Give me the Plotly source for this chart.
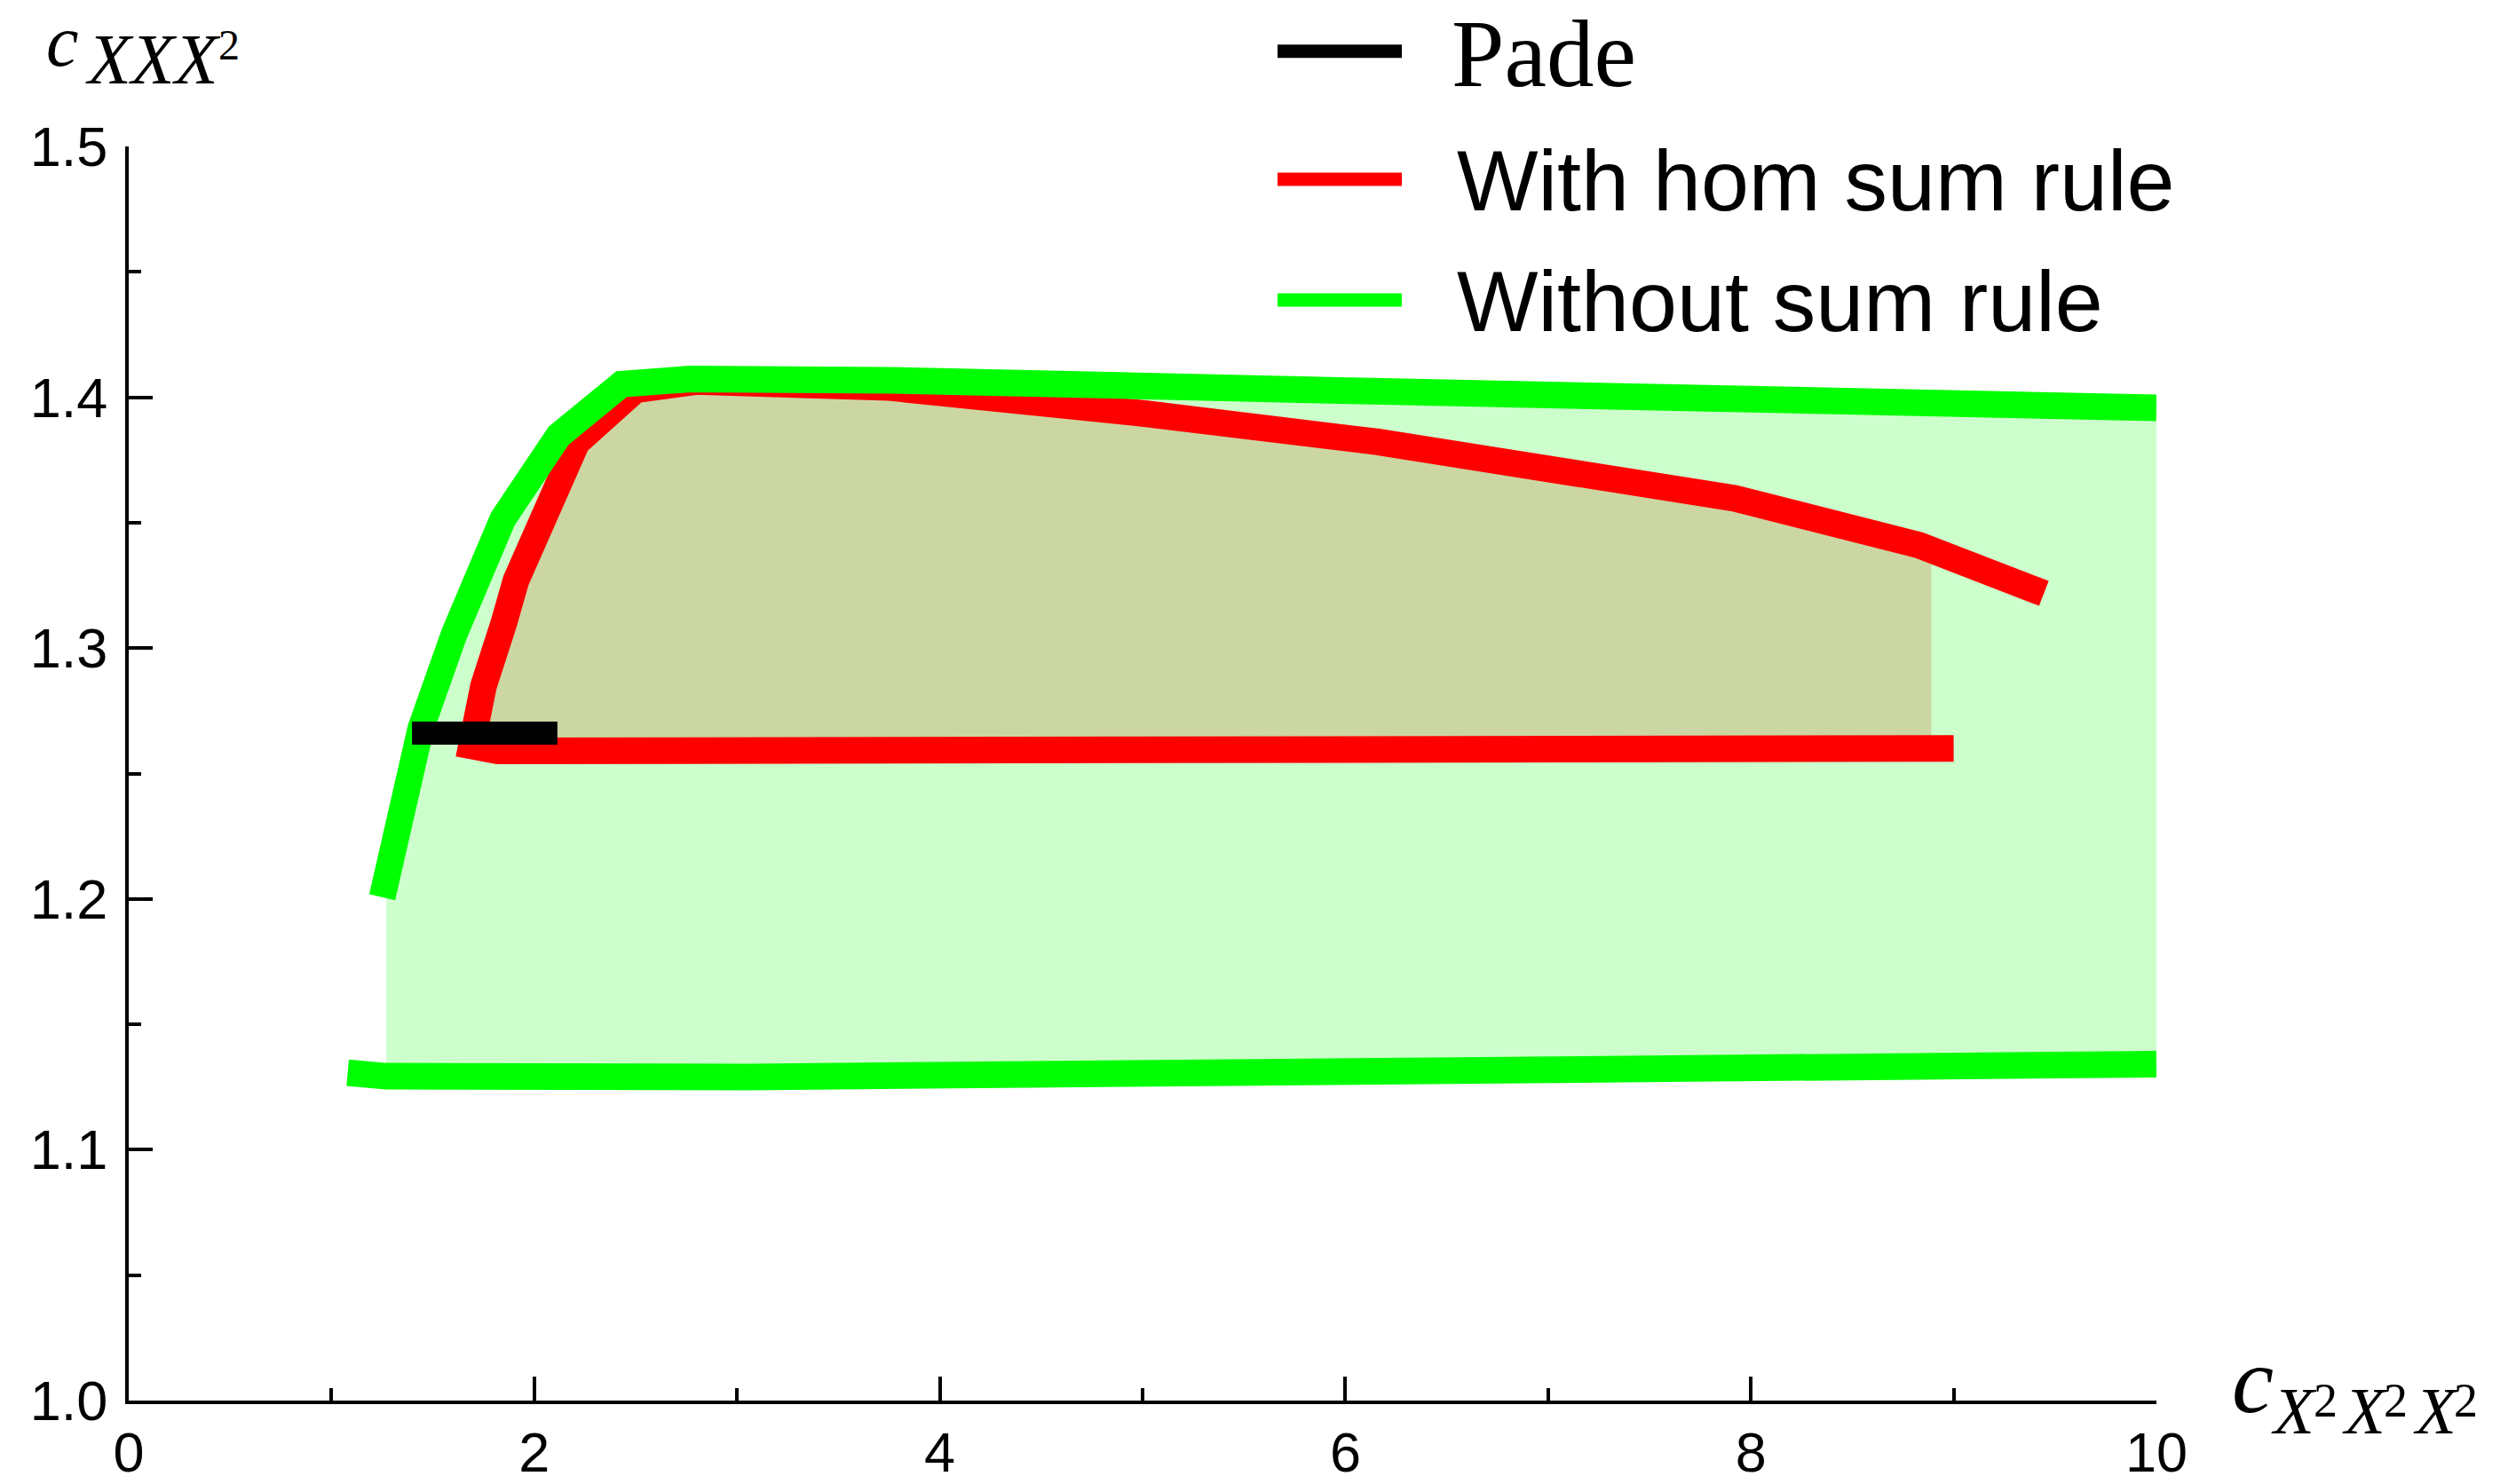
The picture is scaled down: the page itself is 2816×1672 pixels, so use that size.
import numpy as np
import plotly.graph_objects as go

# ---------------- data ----------------
green_upper_x = [1.25, 1.44, 1.605, 1.845, 2.12, 2.43, 2.77, 3.75, 6.02, 8.12, 10.0]
green_upper_y = [1.2007, 1.2679, 1.3056, 1.3515, 1.3847, 1.4052, 1.4073, 1.4068, 1.4026, 1.3989, 1.3958]

green_lower_x = [1.08, 1.27, 3.05, 5.5, 7.95, 9.32, 10.0]
green_lower_y = [1.1307, 1.1293, 1.1290, 1.1299, 1.1309, 1.1319, 1.1341]

red_lower_x = [1.69, 1.82, 7.7, 9.0]
red_lower_y = [1.2610, 1.2590, 1.2597, 1.2600]

red_upper_x = [1.69, 1.75, 1.85, 1.91, 2.21, 2.50, 2.80, 3.75, 5.01, 6.16, 7.92, 8.35, 8.83, 9.445]
red_upper_y = [1.2610, 1.285, 1.310, 1.327, 1.382, 1.4030, 1.4063, 1.4039, 1.3935, 1.3822, 1.3597, 1.3515, 1.341, 1.3218]

pade_x = [1.397, 2.114]
pade_y = [1.2661, 1.2661]

green_fill_range = (1.27, 10.0)
red_fill_range = (1.69, 8.89)

x_tickvals = [0, 2, 4, 6, 8, 10]
x_ticktext = ["0", "2", "4", "6", "8", "10"]
y_tickvals = [1.0, 1.1, 1.2, 1.3, 1.4, 1.5]
y_ticktext = ["1.0", "1.1", "1.2", "1.3", "1.4", "1.5"]

legend_names = ["Pade", "With hom sum rule", "Without sum rule"]
legend_colors = ["#000000", "#FF0000", "#00FF00"]

# ---------------- layout geometry ----------------
W, H = 2816, 1672
L, R, T, B = 145, 387, 165, 94
PW, PH = W - L - R, H - T - B


def px_x(px):
    return (px - L) / PW


def px_y(py):
    return (H - B - py) / PH


def clip(xs, ys, x0, x1):
    xs = np.asarray(xs, float)
    ys = np.asarray(ys, float)
    inner = (xs > x0) & (xs < x1)
    cx = [x0] + list(xs[inner]) + [x1]
    cy = [float(np.interp(x0, xs, ys))] + list(ys[inner]) + [float(np.interp(x1, xs, ys))]
    return cx, cy


fig = go.Figure()

# red filling (region with hom sum rule)
rlx, rly = clip(red_lower_x, red_lower_y, *red_fill_range)
rux, ruy = clip(red_upper_x, red_upper_y, *red_fill_range)
fig.add_trace(go.Scatter(
    x=rlx + rux[::-1], y=rly + ruy[::-1], mode="lines", fill="toself",
    fillcolor="rgba(255,0,0,0.2)", line=dict(width=0), hoverinfo="skip", showlegend=False))

# green filling (region without sum rule)
gux, guy = clip(green_upper_x, green_upper_y, *green_fill_range)
glx, gly = clip(green_lower_x, green_lower_y, *green_fill_range)
fig.add_trace(go.Scatter(
    x=gux + glx[::-1], y=guy + gly[::-1], mode="lines", fill="toself",
    fillcolor="rgba(0,255,0,0.2)", line=dict(width=0), hoverinfo="skip", showlegend=False))

# red boundary
fig.add_trace(go.Scatter(
    x=red_lower_x[::-1] + red_upper_x[1:], y=red_lower_y[::-1] + red_upper_y[1:],
    mode="lines", line=dict(color="#FF0000", width=30), name=legend_names[1], showlegend=False))

# green boundaries
fig.add_trace(go.Scatter(x=green_upper_x, y=green_upper_y, mode="lines",
                         line=dict(color="#00FF00", width=30), name=legend_names[2], showlegend=False))
fig.add_trace(go.Scatter(x=green_lower_x, y=green_lower_y, mode="lines",
                         line=dict(color="#00FF00", width=30), name=legend_names[2], showlegend=False))

# Pade
fig.add_trace(go.Scatter(x=pade_x, y=pade_y, mode="lines",
                         line=dict(color="#000000", width=26), name=legend_names[0], showlegend=False))

# ---------------- annotations ----------------
SERIF = "Liberation Serif, Times New Roman, serif"
SANS = "Liberation Sans, Arial, sans-serif"
annotations = []


def add_text(text, left, baseline, size, family, k):
    annotations.append(dict(
        text=text, xref="paper", yref="paper", x=px_x(left), y=px_y(baseline - k * size),
        xanchor="left", yanchor="middle", showarrow=False,
        font=dict(family=family, size=size, color="black")))


KS, KA = 0.3375, 0.3465
# y-axis label c_{XXX^2}
add_text("<i>c</i>", 50, 74, 82, SERIF, KS)
add_text("<i>XXX</i>", 94, 94, 80, SERIF, KS)
add_text("2", 244, 67, 48, SERIF, KS)
# x-axis label c_{X^2X^2X^2}
add_text("<i>c</i>", 2512, 1591, 106, SERIF, KS)
for lx, sx in [(2556, 2604), (2636, 2683), (2716, 2762)]:
    add_text("<i>X</i>", lx, 1615, 75, SERIF, KS)
    add_text("2", sx, 1596, 54, SERIF, KS)

# manual legend
legend_rows = [(57.7, 1633, 97, 107, SERIF, KS), (202, 1639, 237, 97, SANS, KA), (338, 1639, 373, 97, SANS, KA)]
shapes = []
for name, col, (ly, tx, tb, ts, tf, tk) in zip(legend_names, legend_colors, legend_rows):
    shapes.append(dict(type="line", xref="paper", yref="paper",
                       x0=px_x(1439), x1=px_x(1579), y0=px_y(ly), y1=px_y(ly),
                       line=dict(color=col, width=15)))
    add_text(name, tx, tb, ts, tf, tk)

axis_common = dict(showline=True, linecolor="black", linewidth=4, mirror=False, automargin=False,
                   showgrid=False, zeroline=False, ticks="inside", ticklen=27, tickwidth=4,
                   tickcolor="black", tickfont=dict(family=SANS, size=63, color="black"))

fig.update_layout(
    width=W, height=H, margin=dict(l=L, r=R, t=T, b=B, pad=0, autoexpand=False),
    paper_bgcolor="white", plot_bgcolor="white",
    xaxis=dict(range=[0, 10], tickvals=x_tickvals, ticktext=x_ticktext, ticklabelstandoff=0,
               minor=dict(ticks="inside", dtick=1, ticklen=14, tickwidth=4, tickcolor="black", showgrid=False),
               **axis_common),
    yaxis=dict(range=[1.0, 1.5], tickvals=y_tickvals, ticktext=y_ticktext, ticklabelstandoff=7,
               minor=dict(ticks="inside", dtick=0.05, ticklen=14, tickwidth=4, tickcolor="black", showgrid=False),
               **axis_common),
    annotations=annotations, shapes=shapes, showlegend=False,
)

fig.write_html("out.html")
